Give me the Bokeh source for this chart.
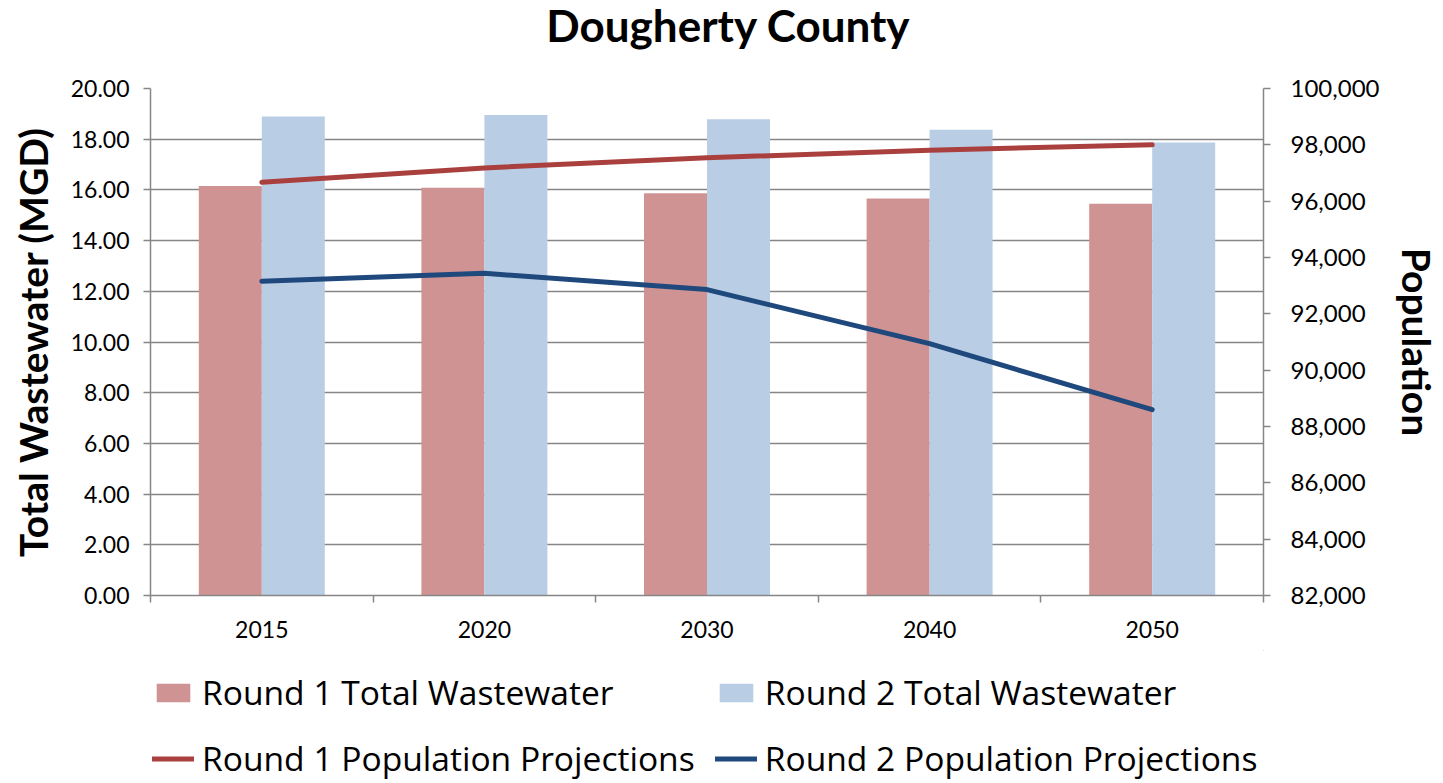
from bokeh.plotting import figure
from bokeh.layouts import column
from bokeh.models import (Range1d, LinearAxis, FixedTicker, SingleIntervalTicker,
                          NumeralTickFormatter, Legend, LegendItem, ColumnDataSource,
                          Label)
from bokeh.transform import dodge
from bokeh.embed import file_html
from bokeh.resources import INLINE

years = ["2015", "2020", "2030", "2040", "2050"]
r1_wastewater = [16.15, 16.08, 15.87, 15.66, 15.45]
r2_wastewater = [18.90, 18.95, 18.79, 18.37, 17.87]
r1_population = [96670, 97180, 97540, 97810, 98000]
r2_population = [93160, 93440, 92860, 90940, 88600]
title_text = "Dougherty County"

FONT = "Lato"
GRID = "#868686"
C_R1BAR, C_R2BAR = "#D09393", "#B9CDE5"
C_R1LINE, C_R2LINE = "#A9403E", "#1F497D"
W = 1443

xs = [i + 0.5 for i in range(len(years))]
src = ColumnDataSource(dict(x=xs, r1=r1_wastewater, r2=r2_wastewater,
                            p1=r1_population, p2=r2_population))


def blank(height):
    # strip with no axes; its ranges keep any helper glyphs out of view
    f = figure(width=W, height=height, output_backend="svg", toolbar_location=None,
               x_range=Range1d(-60, -50), y_range=Range1d(-200000, -100000),
               x_axis_type=None, y_axis_type=None,
               min_border_left=0, min_border_right=0, min_border_top=0,
               min_border_bottom=0)
    f.outline_line_color = None
    f.xgrid.visible = False
    f.ygrid.visible = False
    f.title.visible = False
    return f


# ---- title strip
tf = blank(73)
tf.add_layout(Label(x=578, y=49, x_units="screen", y_units="screen",
                    text=title_text, text_align="center",
                    text_baseline="alphabetic", text_font=FONT,
                    text_font_size="44px", text_font_style="bold",
                    text_color="black"))

# ---- main chart
p = figure(width=W, height=577, output_backend="svg", toolbar_location=None,
           x_range=Range1d(0, len(years)), y_range=Range1d(0, 20),
           min_border_left=150, min_border_right=180, min_border_bottom=55,
           min_border_top=15)
p.outline_line_color = None
p.title.visible = False
p.extra_y_ranges = {"pop": Range1d(82000, 100000)}

bw = 0.283


def draw(fig, use_pop):
    b1 = fig.vbar(x=dodge("x", -bw / 2), top="r1", width=bw, source=src,
                  fill_color=C_R1BAR, line_color=None)
    b2 = fig.vbar(x=dodge("x", bw / 2), top="r2", width=bw, source=src,
                  fill_color=C_R2BAR, line_color=None)
    kw = dict(y_range_name="pop") if use_pop else {}
    l1 = fig.line("x", "p1", source=src, line_width=5, line_color=C_R1LINE,
                  line_cap="round", line_join="round", **kw)
    l2 = fig.line("x", "p2", source=src, line_width=5, line_color=C_R2LINE,
                  line_cap="round", line_join="round", **kw)
    return b1, b2, l1, l2


draw(p, True)

# x axis
xa = p.xaxis[0]
xa.ticker = FixedTicker(ticks=xs, minor_ticks=list(range(len(years) + 1)))
xa.major_label_overrides = {x: y for x, y in zip(xs, years)}
xa.major_tick_line_color = None
xa.minor_tick_line_color = GRID
xa.minor_tick_line_width = 1.5
xa.minor_tick_out = 7
xa.minor_tick_in = 0
xa.axis_line_color = GRID
xa.axis_line_width = 1.5
xa.major_label_text_font = FONT
xa.major_label_text_font_size = "23px"
xa.major_label_text_color = "black"
xa.major_label_standoff = 18
p.xgrid.visible = False

# left axis
ya = p.yaxis[0]
ya.ticker = SingleIntervalTicker(interval=2)
ya.formatter = NumeralTickFormatter(format="0.00")
ya.axis_label = "Total Wastewater (MGD)"
ya.axis_label_text_font = FONT
ya.axis_label_text_font_size = "39px"
ya.axis_label_text_font_style = "bold"
ya.axis_label_text_color = "black"
ya.axis_label_standoff = 12
ya.major_label_text_font = FONT
ya.major_label_text_font_size = "23px"
ya.major_label_text_color = "black"
ya.major_label_standoff = 14
ya.axis_line_color = GRID
ya.axis_line_width = 1.5
ya.major_tick_line_color = GRID
ya.major_tick_line_width = 1.5
ya.major_tick_out = 7
ya.major_tick_in = 0
ya.minor_tick_line_color = None
p.ygrid.grid_line_color = GRID
p.ygrid.grid_line_width = 1.5
p.ygrid.ticker = SingleIntervalTicker(interval=2)

# right axis
ra = LinearAxis(y_range_name="pop", ticker=SingleIntervalTicker(interval=2000),
                formatter=NumeralTickFormatter(format="0,0"))
ra.axis_label = "Population"
ra.axis_label_text_font = FONT
ra.axis_label_text_font_size = "39px"
ra.axis_label_text_font_style = "bold"
ra.axis_label_text_color = "black"
ra.axis_label_standoff = 12
ra.major_label_text_font = FONT
ra.major_label_text_font_size = "24px"
ra.major_label_text_color = "black"
ra.major_label_standoff = 20
ra.axis_line_color = GRID
ra.axis_line_width = 1.5
ra.major_tick_line_color = GRID
ra.major_tick_line_width = 1.5
ra.major_tick_out = 7
ra.major_tick_in = 0
ra.minor_tick_line_color = None
p.add_layout(ra, "right")

# ---- legend strip (same series styles, drawn out of view)
lf = blank(133)
lb1, lb2, ll1, ll2 = draw(lf, False)
legend = Legend(items=[
    LegendItem(label="Round 1 Total Wastewater", renderers=[lb1]),
    LegendItem(label="Round 2 Total Wastewater", renderers=[lb2]),
    LegendItem(label="Round 1 Population Projections", renderers=[ll1]),
    LegendItem(label="Round 2 Population Projections", renderers=[ll2]),
], orientation="horizontal", ncols=2, location=(2, 2))
legend.label_text_font = "Open Sans"
legend.label_text_font_size = "33.6px"
legend.label_text_color = "black"
legend.glyph_width = 42
legend.glyph_height = 23
legend.label_standoff = 8
legend.spacing = 20
legend.padding = 0
legend.margin = 0
legend.border_line_color = None
legend.background_fill_alpha = 0
lf.add_layout(legend, "center")

layout = column(tf, p, lf, spacing=0)
open("out.html", "w").write(file_html(layout, INLINE))
